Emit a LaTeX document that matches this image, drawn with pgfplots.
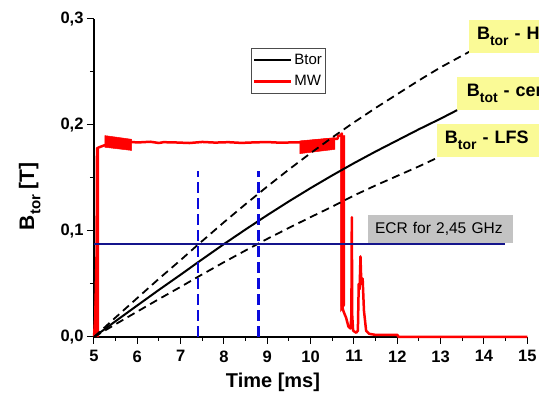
\documentclass[border=0pt]{standalone}
\usepackage{fontspec}
\setmainfont{Liberation Sans}
\usepackage{pgfplots}
\pgfplotsset{compat=1.18}
\definecolor{ecrblue}{RGB}{20,20,140}
\definecolor{dblue}{RGB}{10,10,220}
\definecolor{lyellow}{RGB}{250,250,150}
\definecolor{lgray}{RGB}{195,195,195}
\begin{document}
\begin{tikzpicture}
\begin{axis}[
  scale only axis, width=433.3pt, height=318pt,
  xmin=5, xmax=15, ymin=0, ymax=0.3,
  clip=false,
  axis x line*=bottom, axis y line*=left,
  axis line style={line width=1.2pt, black},
  tick align=outside,
  major tick length=7pt, minor tick length=4pt,
  every tick/.style={black, line width=1pt},
  xtick={5,6,7,8,9,10,11,12,13,14,15},
  xticklabels={5,6,7,8,9,10,11,12,13,14,15},
  ytick={0,0.1,0.2,0.3},
  yticklabels={{0,0},{0,1},{0,2},{0,3}},
  minor x tick num=1, minor y tick num=1,
  ticklabel style={font=\fontsize{16.5}{18}\selectfont\bfseries},
  xticklabel style={yshift=-3pt},
  xlabel={Time [ms]},
  xlabel style={font=\fontsize{20}{22}\selectfont\bfseries, at={(axis description cs:0.413,0)}, anchor=north, yshift=-32pt},
  ylabel={B\raisebox{-0.3em}{\fontsize{15}{15}\selectfont tor} [T]},
  ylabel style={font=\fontsize{21}{23}\selectfont\bfseries, at={(axis description cs:0,0.443)}, anchor=south, yshift=50pt},
  legend style={at={(rel axis cs:0.362,0.908)}, anchor=north west, draw=black!70, line width=0.6pt,
    font=\fontsize{15}{16}\selectfont, inner xsep=1.5pt, inner ysep=4pt, row sep=5pt, cells={anchor=west}},
  legend image code/.code={\draw[#1] (0pt,0pt) -- (37pt,0pt);},
]
\addlegendimage{black, line width=2pt}
\addlegendentry{Btor}
\addlegendimage{red, line width=2.8pt}
\addlegendentry{MW}

% MW signal
\addplot[red, line width=2.5pt, line join=round, forget plot] coordinates {
(5.0,0.0) (5.03,0.02) (5.06,0.08) (5.07,0.178) (5.12,0.179) (5.25,0.181)
(5.87,0.184) (6.0,0.1835) (6.3,0.1842) (6.5,0.1830) (6.6,0.1838) (6.9,0.1835)
(7.2,0.1830) (7.5,0.1840) (7.8,0.1834) (8.1,0.1838) (8.4,0.1831) (8.7,0.1836)
(9.0,0.1839) (9.3,0.1833) (9.6,0.1836) (9.76,0.1835)
(10.56,0.187) (10.62,0.187) (10.64,0.190) (10.69,0.190) (10.72,0.192)
(10.72,0.03) (10.76,0.024) (10.82,0.018) (10.87,0.010) (10.92,0.008)
(10.94,0.02) (10.95,0.113) (10.96,0.02) (10.98,0.006) (11.05,0.004)
(11.09,0.006) (11.11,0.05) (11.13,0.045) (11.15,0.076) (11.17,0.05)
(11.2,0.055) (11.23,0.025) (11.28,0.006) (11.35,0.003) (11.5,0.002)
(12.0,0.002) (12.03,0.0) (15,0.0)
};
\addplot[red, fill=red, line width=0.5pt, forget plot] coordinates {
(5.0,0) (5.11,0) (5.11,0.178) (5.07,0.178) (5.06,0.08) (5.02,0.03)} -- cycle;
\addplot[red, fill=red, line width=0.5pt, forget plot] coordinates {
(5.25,0.190) (5.87,0.1865) (5.87,0.1760) (5.25,0.1790)} -- cycle;
\addplot[red, fill=red, line width=0.5pt, forget plot] coordinates {
(9.75,0.185) (10.56,0.188) (10.56,0.177) (9.75,0.173)} -- cycle;
\addplot[red, fill=red, line width=0.5pt, forget plot] coordinates {
(10.69,0.190) (10.79,0.190) (10.79,0.030) (10.69,0.024)} -- cycle;

% B fields
\addplot[black, line width=1.8pt, dash pattern=on 8pt off 5pt, forget plot] coordinates {
(5,0) (5.5,0.0185) (6,0.0368) (6.5,0.0550) (7,0.0726) (7.4,0.0871) (8,0.1083)
(8.5,0.1254) (9,0.1420) (9.5,0.1581) (10,0.1735) (10.5,0.1883) (11,0.2025)
(11.5,0.2161) (12,0.2291) (12.5,0.2421) (13,0.2544) (13.5,0.2655) (13.68,0.2695)
};
\addplot[black, line width=2pt, forget plot] coordinates {
(5,0) (5.5,0.0150) (6,0.0298) (6.5,0.0445) (7,0.0588) (7.4,0.0705) (8,0.0877)
(8.5,0.1015) (9,0.1150) (9.5,0.1280) (10,0.1405) (10.5,0.1525) (11,0.1640)
(11.5,0.1750) (12,0.1855) (12.5,0.1960) (13,0.2060) (13.38,0.2140)
};
\addplot[black, line width=1.8pt, dash pattern=on 8pt off 5pt, forget plot] coordinates {
(5,0) (5.5,0.0121) (6,0.0240) (6.5,0.0358) (7,0.0473) (7.4,0.0568) (8,0.0706)
(8.5,0.0817) (9,0.0926) (9.5,0.1030) (10,0.1131) (10.5,0.1230) (11,0.1335)
(11.5,0.1430) (12,0.1520) (12.5,0.1610) (12.92,0.1690)
};

% ECR line
\addplot[ecrblue, line width=1.4pt, forget plot] coordinates {(5,0.0877) (14.49,0.0877)};
\addplot[dblue, line width=2.8pt, dash pattern=on 11pt off 5pt, forget plot] coordinates {(7.4,0) (7.4,0.157)};
\addplot[dblue, line width=2.8pt, dash pattern=on 11pt off 5pt, forget plot] coordinates {(8.8,0) (8.8,0.157)};

\node[fill=lgray, anchor=south west, minimum height=28pt, inner xsep=7pt, text width=131pt, align=left,
  font=\fontsize{15.5}{17}\selectfont] at (axis cs:11.32,0.0887) {ECR for 2,45 GHz};

\node[fill=lyellow, anchor=south west, minimum height=33pt, inner xsep=8pt,
  font=\fontsize{18}{20}\selectfont\bfseries, text width=150pt, align=left] at (axis cs:13.65,0.268)
  {B\raisebox{-0.35em}{\fontsize{14}{14}\selectfont tor} - HFS};
\node[fill=lyellow, anchor=south west, minimum height=33pt, inner xsep=10pt,
  font=\fontsize{18}{20}\selectfont\bfseries, text width=150pt, align=left] at (axis cs:13.37,0.214)
  {B\raisebox{-0.35em}{\fontsize{14}{14}\selectfont tot} - center};
\node[fill=lyellow, anchor=south west, minimum height=33pt, inner xsep=8pt,
  font=\fontsize{18}{20}\selectfont\bfseries, text width=150pt, align=left] at (axis cs:12.91,0.170)
  {B\raisebox{-0.35em}{\fontsize{14}{14}\selectfont tor} - LFS};
\end{axis}
\pgfresetboundingbox
\path (-94pt,-59pt) rectangle (445pt,337pt);
\end{tikzpicture}
\end{document}
